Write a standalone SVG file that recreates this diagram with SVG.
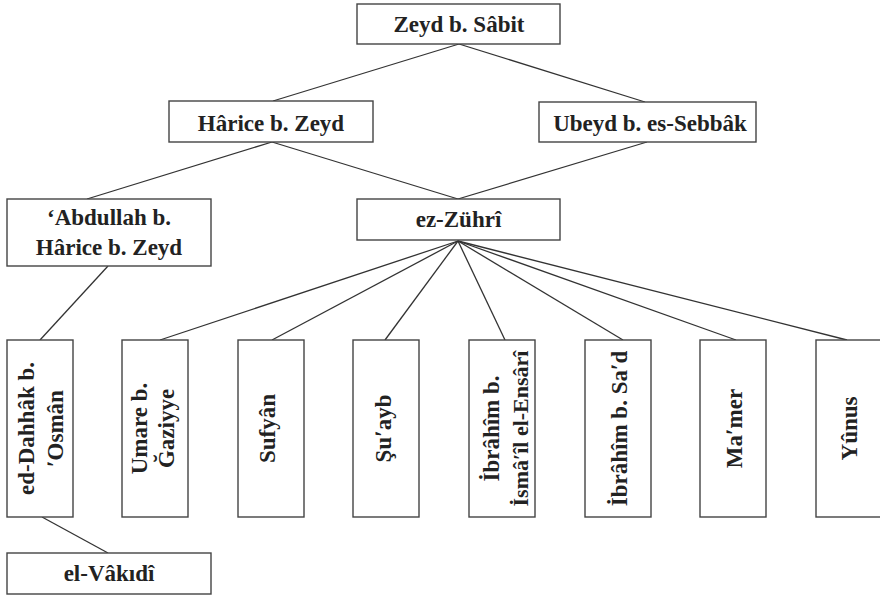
<svg xmlns="http://www.w3.org/2000/svg" width="880" height="598" viewBox="0 0 880 598">
<style>
.box{fill:#fff;stroke:#444;stroke-width:1.4}
.t{font-family:"Liberation Serif","Times New Roman",serif;font-weight:bold;font-size:23px;fill:#222;text-anchor:middle}
.s{font-size:22px}
.c line{stroke:#333;stroke-width:1.3}
</style>
<rect width="880" height="598" fill="#fff"/>
<g class="c" id="connectors">
<line x1="459" y1="44" x2="273" y2="101"/>
<line x1="459" y1="44" x2="645" y2="102"/>
<line x1="272" y1="142" x2="87" y2="199"/>
<line x1="272" y1="142" x2="458" y2="199"/>
<line x1="647" y1="142" x2="458" y2="199"/>
<line x1="108" y1="266" x2="40" y2="340"/>
<line x1="458" y1="241" x2="160" y2="340"/>
<line x1="458" y1="241" x2="272" y2="340"/>
<line x1="458" y1="241" x2="385" y2="340"/>
<line x1="458" y1="241" x2="505" y2="340"/>
<line x1="458" y1="241" x2="623" y2="340"/>
<line x1="458" y1="241" x2="736" y2="340"/>
<line x1="458" y1="241" x2="847" y2="340"/>
<line x1="42" y1="517" x2="108" y2="553"/>
</g>
<g id="zeyd"><rect class="box" x="357" y="4" width="203" height="40"/><text class="t" x="459" y="32">Zeyd b. Sâbit</text></g>
<g id="harice"><rect class="box" x="169" y="101" width="204" height="41"/><text class="t" x="271" y="131">Hârice b. Zeyd</text></g>
<g id="ubeyd"><rect class="box" x="539" y="102" width="217" height="40"/><text class="t" x="650" y="131">Ubeyd b. es-Sebbâk</text></g>
<g id="abdullah"><rect class="box" x="7" y="199" width="204" height="67"/><text class="t" x="109" y="225">‘Abdullah b.</text><text class="t" x="109" y="255">Hârice b. Zeyd</text></g>
<g id="zuhri"><rect class="box" x="357" y="199" width="203" height="41"/><text class="t" x="458.5" y="227">ez-Zührî</text></g>
<g id="dahhak"><rect class="box" x="7" y="340" width="66" height="177"/><text class="t" transform="translate(34,428.5) rotate(-90)">ed-Dahhâk b.</text><text class="t" transform="translate(63,428.5) rotate(-90)">ʹOsmân</text></g>
<g id="umare"><rect class="box" x="122" y="340" width="66" height="177"/><text class="t" transform="translate(147,428.5) rotate(-90)">Umare b.</text><text class="t" transform="translate(174,428.5) rotate(-90)">Ğaziyye</text></g>
<g id="sufyan"><rect class="box" x="238" y="340" width="66" height="177"/><text class="t" transform="translate(275,428.5) rotate(-90)">Sufyân</text></g>
<g id="suayb"><rect class="box" x="353" y="340" width="66" height="177"/><text class="t" transform="translate(391,428.5) rotate(-90)">Şuʹayb</text></g>
<g id="ibrahim-ismail"><rect class="box" x="469" y="340" width="66" height="177"/><text class="t" transform="translate(499,428.5) rotate(-90)">İbrâhîm b.</text><text class="t s" transform="translate(528,428.5) rotate(-90)">İsmâʹîl el-Ensârî</text></g>
<g id="ibrahim-sad"><rect class="box" x="585" y="340" width="66" height="177"/><text class="t" transform="translate(627,428.5) rotate(-90)">İbrâhîm b. Saʹd</text></g>
<g id="mamer"><rect class="box" x="700" y="340" width="66" height="177"/><text class="t" transform="translate(742,428.5) rotate(-90)">Maʹmer</text></g>
<g id="yunus"><rect class="box" x="816" y="340" width="70" height="177"/><text class="t" transform="translate(857,428.5) rotate(-90)">Yûnus</text></g>
<g id="vakidi"><rect class="box" x="7" y="553" width="204" height="41"/><text class="t" x="109" y="581">el-Vâkıdî</text></g>
</svg>
